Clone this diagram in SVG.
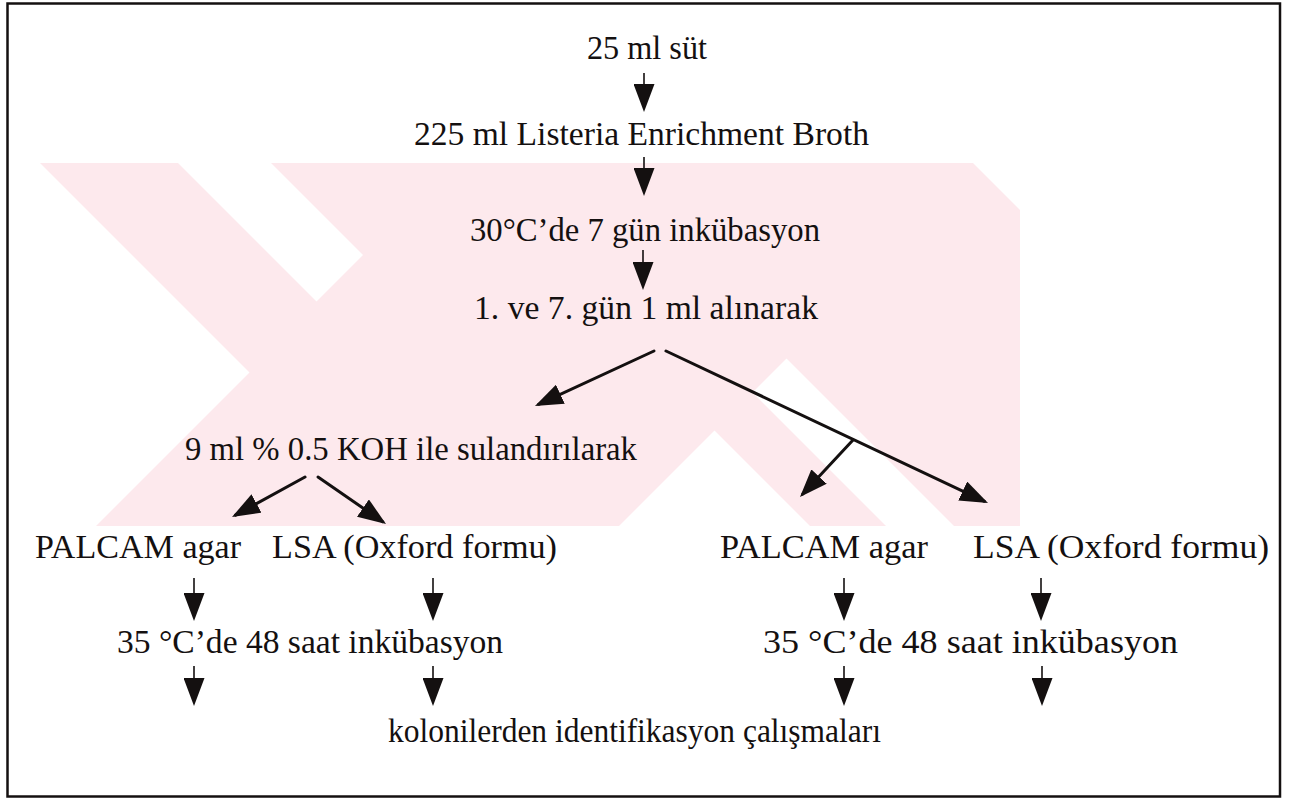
<svg xmlns="http://www.w3.org/2000/svg" width="1290" height="807" viewBox="0 0 1290 807">
  <defs>
    <style>
      text { font-family: "Liberation Serif", "Times New Roman", serif; font-size: 33px; fill: #141010; }
      .stem { stroke: #141010; stroke-width: 1.6; fill: none; marker-end: url(#head); }
      .diag { stroke: #141010; stroke-width: 3; fill: none; stroke-linecap: round; marker-end: url(#head); }
      .wm { fill: #fde9ed; }
      .wm-gap { fill: #ffffff; }
      .frame { fill: none; stroke: #141010; stroke-width: 2.5; }
    </style>
    <marker id="head" viewBox="0 0 28 21" refX="24" refY="10.5" markerWidth="28" markerHeight="21" markerUnits="userSpaceOnUse" orient="auto">
      <path d="M0,0 L28,10.5 L0,21 Z" fill="#141010"/>
    </marker>
    <clipPath id="wmClip">
      <rect x="36" y="163" width="984" height="363"/>
    </clipPath>
  </defs>

  <rect x="0" y="0" width="1290" height="807" fill="#ffffff"/>

  <!-- faint striped emblem behind the flow chart -->
  <g id="watermark" clip-path="url(#wmClip)">
    <rect class="wm" x="36" y="163" width="984" height="363"/>
    <polygon class="wm-gap" points="36,163 40,163 249.5,372.5 96,526 36,526"/>
    <polygon class="wm-gap" points="178,163 271,163 363,255 316.5,301.5"/>
    <polygon class="wm-gap" points="973,163 1020,163 1020,210"/>
    <polygon class="wm-gap" points="714.5,430.5 810,526 619,526"/>
    <polygon class="wm-gap" points="786.5,358.5 954,526 886,526 752.5,392.5"/>
  </g>

  <rect class="frame" x="7.5" y="3.5" width="1272.5" height="793"/>

  <g id="connectors">
    <line class="stem" x1="644" y1="73" x2="644" y2="108"/>
    <line class="stem" x1="644" y1="157" x2="644" y2="192"/>
    <line class="stem" x1="643" y1="250" x2="643" y2="286"/>

    <path class="diag" d="M654,351 L538.6,404.3"/>
    <path class="diag" d="M666,351 L984.4,501.3"/>
    <path class="diag" d="M853,440 L802.7,494.1"/>

    <path class="diag" d="M305,477 L235.5,515.1"/>
    <path class="diag" d="M318,477 L382.7,521.7"/>

    <line class="stem" x1="194" y1="578" x2="194" y2="617"/>
    <line class="stem" x1="433" y1="578" x2="433" y2="617"/>
    <line class="stem" x1="844" y1="578" x2="844" y2="617"/>
    <line class="stem" x1="1041" y1="578" x2="1041" y2="617"/>

    <line class="stem" x1="194" y1="666" x2="194" y2="702"/>
    <line class="stem" x1="433" y1="666" x2="433" y2="702"/>
    <line class="stem" x1="844" y1="666" x2="844" y2="702"/>
    <line class="stem" x1="1042" y1="666" x2="1042" y2="702"/>
  </g>

  <g id="sample"><text x="587" y="59" textLength="120" lengthAdjust="spacingAndGlyphs">25 ml süt</text></g>
  <g id="enrichment"><text x="414" y="145" textLength="455" lengthAdjust="spacingAndGlyphs">225 ml Listeria Enrichment Broth</text></g>
  <g id="incubation7"><text x="470" y="241" textLength="350" lengthAdjust="spacingAndGlyphs">30°C’de 7 gün inkübasyon</text></g>
  <g id="sampling"><text x="474" y="319" textLength="344" lengthAdjust="spacingAndGlyphs">1. ve 7. gün 1 ml alınarak</text></g>
  <g id="koh"><text x="185" y="460" textLength="452" lengthAdjust="spacingAndGlyphs">9 ml % 0.5 KOH ile sulandırılarak</text></g>

  <g id="palcam-a"><text x="35" y="558" textLength="206" lengthAdjust="spacingAndGlyphs">PALCAM agar</text></g>
  <g id="lsa-a"><text x="272" y="558" textLength="285" lengthAdjust="spacingAndGlyphs">LSA (Oxford formu)</text></g>
  <g id="palcam-b"><text x="720" y="558" textLength="208" lengthAdjust="spacingAndGlyphs">PALCAM agar</text></g>
  <g id="lsa-b"><text x="973" y="558" textLength="296" lengthAdjust="spacingAndGlyphs">LSA (Oxford formu)</text></g>

  <g id="incubation48-a"><text x="117" y="653" textLength="386" lengthAdjust="spacingAndGlyphs">35 °C’de 48 saat inkübasyon</text></g>
  <g id="incubation48-b"><text x="763" y="653" textLength="415" lengthAdjust="spacingAndGlyphs">35 °C’de 48 saat inkübasyon</text></g>

  <g id="identification"><text x="388" y="742" textLength="493" lengthAdjust="spacingAndGlyphs">kolonilerden identifikasyon çalışmaları</text></g>
</svg>
